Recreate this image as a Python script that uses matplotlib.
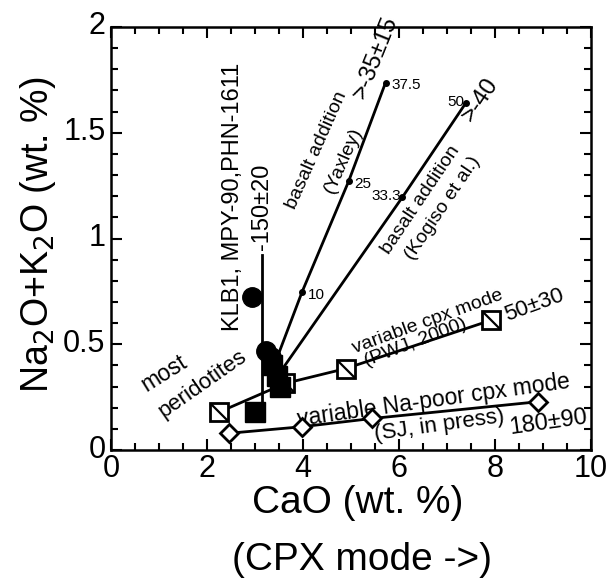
import matplotlib
matplotlib.use("Agg")
import matplotlib.pyplot as plt
from matplotlib.path import Path
from matplotlib.ticker import MultipleLocator, FuncFormatter
from matplotlib.transforms import ScaledTranslation

plt.rcParams['font.family'] = ['Liberation Sans', 'DejaVu Sans']

# ---- data ----
yax_x = [3.40, 3.98, 4.95, 5.72]
yax_y = [0.40, 0.747, 1.27, 1.737]
yax_lab = ["", "10", "25", "37.5"]

kog_x = [3.50, 6.07, 7.39]
kog_y = [0.36, 1.195, 1.64]
kog_lab = ["", "33.3", "50"]

pwj_x = [2.26, 3.63, 4.89, 7.91]
pwj_y = [0.18, 0.315, 0.385, 0.613]

sj_x = [2.45, 3.98, 5.44, 8.89]
sj_y = [0.079, 0.11, 0.149, 0.228]

vline_x = 3.15
vline_y = [0.14, 0.92]

circ_x = [2.94, 3.22, 3.33]
circ_y = [0.723, 0.47, 0.44]

sq_x = [2.99, 3.35, 3.45, 3.52]
sq_y = [0.18, 0.40, 0.35, 0.30]

# ---- figure ----
fig = plt.figure(figsize=(6.13, 5.79), dpi=100)
W, H = 613, 579
ax = fig.add_axes([111 / W, 1 - 450 / H, (591 - 111) / W, (450 - 27) / H])
ax.set_xlim(0, 10)
ax.set_ylim(0, 2)

ax.xaxis.set_major_locator(MultipleLocator(2))
ax.xaxis.set_minor_locator(MultipleLocator(0.5))
ax.yaxis.set_major_locator(MultipleLocator(0.5))
ax.yaxis.set_minor_locator(MultipleLocator(0.1))
ax.yaxis.set_major_formatter(FuncFormatter(lambda v, p: f"{v:g}"))
ax.tick_params(which='both', direction='in', top=True, right=True, width=1.5)
ax.tick_params(which='major', length=8, labelsize=22, pad=3)
ax.tick_params(axis='y', which='major', pad=4)
ax.tick_params(which='minor', length=5)
for s in ax.spines.values():
    s.set_linewidth(1.8)

shift_up = ScaledTranslation(0, 4 / 100, fig.dpi_scale_trans)
for lab in ax.get_yticklabels():
    lab.set_transform(lab.get_transform() + shift_up)

fig.text(358 / W, 1 - 503 / H, "CaO (wt. %)", fontsize=28, ha='center', va='center')
fig.text(362 / W, 1 - 560 / H, "(CPX mode ->)", fontsize=28, ha='center', va='center')
fig.text(38 / W, 1 - 235 / H, "Na$_2$O+K$_2$O (wt. %)", fontsize=27, ha='center',
         va='center', rotation=90)

lw = 2.0
# vertical line
ax.plot([vline_x, vline_x], vline_y, color='black', lw=lw)

# basalt addition lines
ax.plot(yax_x, yax_y, color='black', lw=lw, marker='o', markersize=4, zorder=3)
ax.plot(kog_x, kog_y, color='black', lw=lw, marker='o', markersize=4, zorder=3)
for x, y, t in zip(yax_x, yax_y, yax_lab):
    if t:
        ax.annotate(t, (x, y), xytext=(4, -2), textcoords='offset points', fontsize=11, va='center', ha='left')
for x, y, t in zip(kog_x, kog_y, kog_lab):
    if t:
        ax.annotate(t, (x, y), xytext=(-1, 1), textcoords='offset points', fontsize=11, va='center', ha='right')

# PWJ line with slashed squares
ax.plot(pwj_x, pwj_y, color='black', lw=lw, marker='s', markersize=13,
        markerfacecolor='white', markeredgecolor='black', markeredgewidth=2, zorder=4)
slash = Path([(-1, 1), (1, -1)], [Path.MOVETO, Path.LINETO])
ax.plot(pwj_x, pwj_y, linestyle='none', marker=slash, markersize=13,
        markeredgecolor='black', markeredgewidth=1.6, zorder=5)

# SJ line with diamonds
ax.plot(sj_x, sj_y, color='black', lw=lw, marker='D', markersize=9.5,
        markerfacecolor='white', markeredgecolor='black', markeredgewidth=2, zorder=4)

# filled peridotite symbols
ax.plot(circ_x, circ_y, linestyle='none', marker='o', markersize=14, color='black', zorder=6)
ax.plot(sq_x, sq_y, linestyle='none', marker='s', markersize=14, color='black', zorder=6)

# ---- annotations ----
def txt(px, py, s, rot=0, size=13, **kw):
    x, y = ax.transData.inverted().transform(
        fig.transFigure.transform((px / W, 1 - py / H)))
    ax.text(x, y, s, rotation=rot, fontsize=size, ha='center', va='center',
            rotation_mode='anchor', **kw)

txt(233, 197, "KLB1, MPY-90,PHN-1611", rot=90, size=17)
txt(262, 207, "-150±20", rot=90, size=17)
txt(317, 150, "basalt addition", rot=66, size=14)
txt(343, 160, "(Yaxley)", rot=66, size=14)
txt(376, 57, ">-35±15", rot=68, size=17)
txt(421, 200, "basalt addition", rot=56, size=14)
txt(443, 208, "(Kogiso et al.)", rot=56, size=14)
txt(480, 100, ">-40", rot=56, size=17)
txt(428, 322, "variable cpx mode", rot=20, size=14)
txt(416, 343, "(PWJ, 2000)", rot=21, size=14)
txt(534, 305, "50±30", rot=20, size=16)
txt(434, 400, "variable Na-poor cpx mode", rot=8, size=16.5)
txt(439, 425, "(SJ, in press)", rot=8, size=16)
txt(548, 423, "180±90", rot=8, size=17)
txt(164, 373, "most", rot=32, size=16.5)
txt(203, 384, "peridotites", rot=35, size=16)

fig.savefig("out.png", dpi=100)
